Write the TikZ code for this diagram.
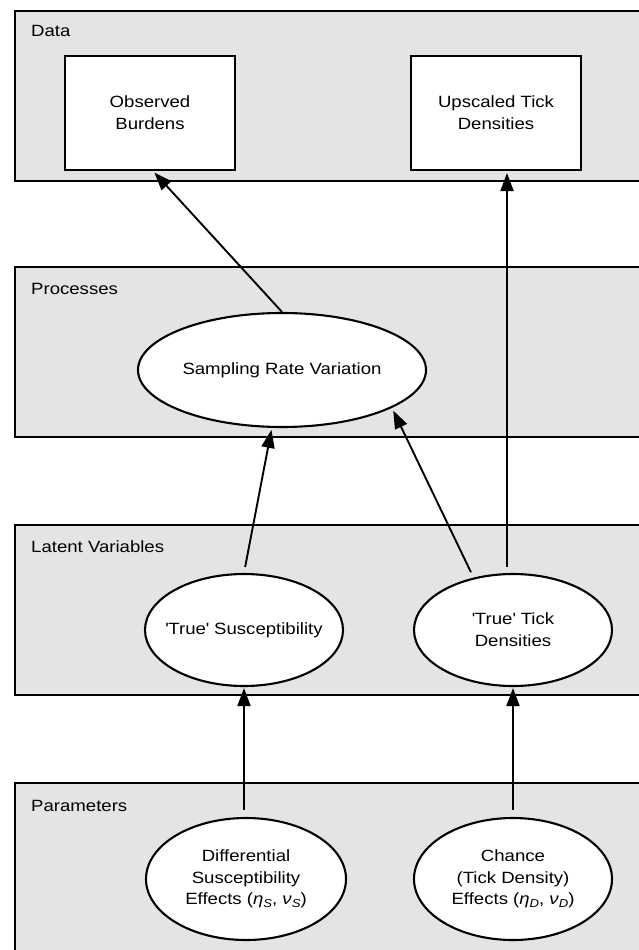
\documentclass[tikz,border=0pt]{standalone}
\usepackage{fontspec}
\setmainfont{Liberation Sans}[FakeStretch=1.14]
\usetikzlibrary{arrows.meta,shapes.geometric,calc}
\definecolor{panelgray}{HTML}{E4E4E4}
\newcommand\subsc[1]{\raisebox{-0.35ex}{\fontsize{11.5}{11.5}\selectfont\itshape #1}}
\newcommand\sq{\textquotesingle}
\begin{document}
\begin{tikzpicture}[x=1pt,y=-1pt,
  every node/.style={font=\fontsize{16.3}{21.7}\selectfont, inner sep=0pt, align=center},
  panel/.style={draw, line width=2.1pt, fill=panelgray, minimum width=640pt, anchor=north west},
  plabel/.style={anchor=base west},
  databox/.style={draw, line width=2.1pt, fill=white, rectangle, minimum width=170pt, minimum height=114pt},
  oval/.style={draw, line width=2.1pt, fill=white, ellipse},
  arr/.style={line width=1.9pt, -{Triangle[length=18pt,width=13pt]}}
]
\useasboundingbox (0,0) rectangle (638,950);
\fill[white] (0,0) rectangle (638,950);

% panels
\node[panel, minimum height=170pt] (pdata) at (14,10) {};
\node[panel, minimum height=170pt] (pproc) at (14,266) {};
\node[panel, minimum height=170pt] (plat)  at (14,524) {};
\node[panel, minimum height=185pt] (ppar)  at (14,782) {};

\node[plabel] (ldata) at ($(pdata.north west)+(17,27)$) {Data};
\node[plabel] (lproc) at ($(pproc.north west)+(17,28)$) {Processes};
\node[plabel] (llat)  at ($(plat.north west)+(17,28)$) {Latent Variables};
\node[plabel] (lpar)  at ($(ppar.north west)+(17,29)$) {Parameters};

% data boxes
\node[databox] (obs) at (150,113) {Observed\\Burdens};
\node[databox] (ups) at (496,113) {Upscaled Tick\\Densities};

% processes
\node[oval, minimum width=288pt, minimum height=114pt] (samp) at (282,370) {};
\node (sampt) at (samp.center) {Sampling Rate Variation};

% latent variables
\node[oval, minimum width=198pt, minimum height=112pt] (sus) at (244,630) {};
\node (sust) at (sus.center) {\sq True\sq{} Susceptibility};
\node[oval, minimum width=198pt, minimum height=112pt] (tick) at (513,630) {};
\node (tickt) at (tick.center) {\sq True\sq{} Tick\\Densities};

% parameters
\node[oval, minimum width=200pt, minimum height=122pt] (diff) at (246,879) {};
\node (difft) at (diff.center)
  {Differential\\Susceptibility\\Effects (\textit{η}\subsc{S}, \textit{ν}\subsc{S})};
\node[oval, minimum width=198pt, minimum height=122pt] (chance) at (513,879) {};
\node (chancet) at (chance.center)
  {Chance\\(Tick Density)\\Effects (\textit{η}\subsc{D}, \textit{ν}\subsc{D})};

% connectors
\coordinate (ua) at ([xshift=11pt]ups.south);
\coordinate (oa) at ([xshift=3pt]obs.south);
\draw[arr, shorten >=2pt] (samp.north) -- (oa);
\draw[arr, shorten <=6pt, shorten >=2pt] (ua |- tick.north) -- (ua);
\draw[arr, shorten <=6pt, shorten >=2pt] (sus.north) -- (samp.260);
\draw[arr, shorten <=6pt, shorten >=3pt] (tick.127) -- (samp.-19);
\draw[arr, shorten <=7pt, shorten >=1pt] (sus.south |- diff.north) -- (sus.south);
\draw[arr, shorten <=7pt, shorten >=1pt] (tick.south |- chance.north) -- (tick.south);
\end{tikzpicture}
\end{document}
